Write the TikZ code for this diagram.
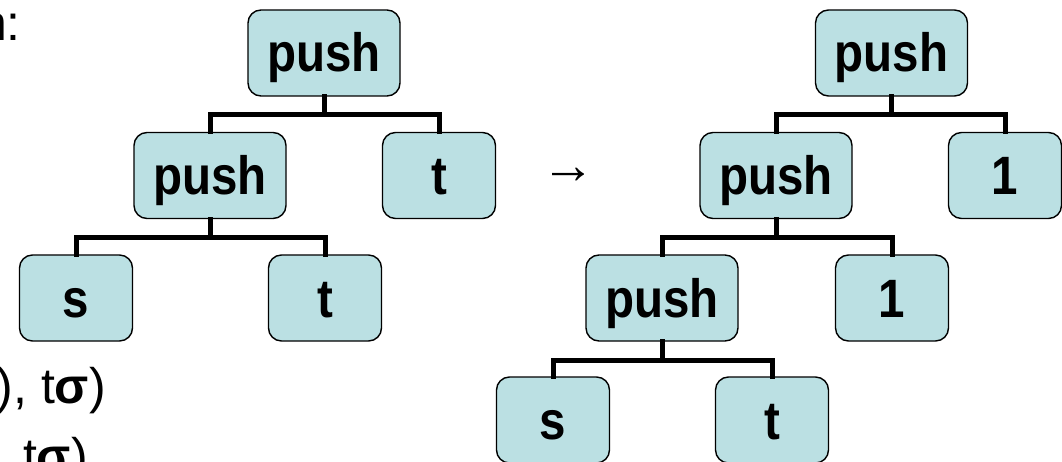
\documentclass[tikz,border=0pt]{standalone}
\usepackage{fontspec}
\setmainfont{Liberation Sans}
\newfontfamily\boxfont[FakeStretch=0.88]{Liberation Sans}
\definecolor{boxfill}{HTML}{BBE0E3}
\tikzset{
  tnode/.style={draw=black, line width=1.4pt, fill=boxfill, rounded corners=13pt,
    minimum height=86pt, inner sep=0pt, text height=38pt, text depth=0pt,
    font=\boxfont\fontsize{54}{62}\selectfont\bfseries},
  wide/.style={tnode, minimum width=152pt},
  leaf/.style={tnode, minimum width=113pt},
  branch/.style={line width=5pt, line cap=rect},
  side/.style={inner sep=0pt, font=\fontsize{50}{60}\selectfont},
}
\begin{document}
\begin{tikzpicture}[x=1pt, y=-1pt]
\useasboundingbox (0,0) rectangle (1062,462);
\clip (0,0) rectangle (1062,462);

% fragments of the surrounding text
\node[side, anchor=base east] (lbl1) at (21,41) {n:};
\node[side, anchor=base east] (lbl2) at (106,403) {), t\textbf{σ})};
\node[side, anchor=base east] (lbl3) at (88,473) {t\textbf{σ})};

% left tree
\node[wide] (a) at (324,53) {push};
\node[wide] (a1) at (210,175.5) {push};
\node[leaf] (a2) at (439,175.5) {t};
\node[leaf] (a11) at (76,298) {s};
\node[leaf] (a12) at (325,298) {t};

% rewrite arrow
\node[inner sep=0pt, font=\fontsize{54}{60}\selectfont] (arr) at (568,176) {→};

% right tree
\node[wide] (b) at (891.5,53) {push};
\node[wide] (b1) at (776,175.5) {push};
\node[leaf] (b2) at (1005,175.5) {1};
\node[wide] (b11) at (662,298) {push};
\node[leaf] (b12) at (892,298) {1};
\node[leaf] (b111) at (553,420) {s};
\node[leaf] (b112) at (772,420) {t};

% branches
\draw[branch] (a.south) -- (a.south |- 0,115) -| (a1.north);
\draw[branch] (a.south |- 0,115) -| (a2.north);
\draw[branch] (a1.south) -- (a1.south |- 0,238) -| (a11.north);
\draw[branch] (a1.south |- 0,238) -| (a12.north);

\draw[branch] (b.south) -- (b.south |- 0,115) -| (b1.north);
\draw[branch] (b.south |- 0,115) -| (b2.north);
\draw[branch] (b1.south) -- (b1.south |- 0,238) -| (b11.north);
\draw[branch] (b1.south |- 0,238) -| (b12.north);
\draw[branch] (b11.south) -- (b11.south |- 0,360) -| (b111.north);
\draw[branch] (b11.south |- 0,360) -| (b112.north);
\end{tikzpicture}
\end{document}
